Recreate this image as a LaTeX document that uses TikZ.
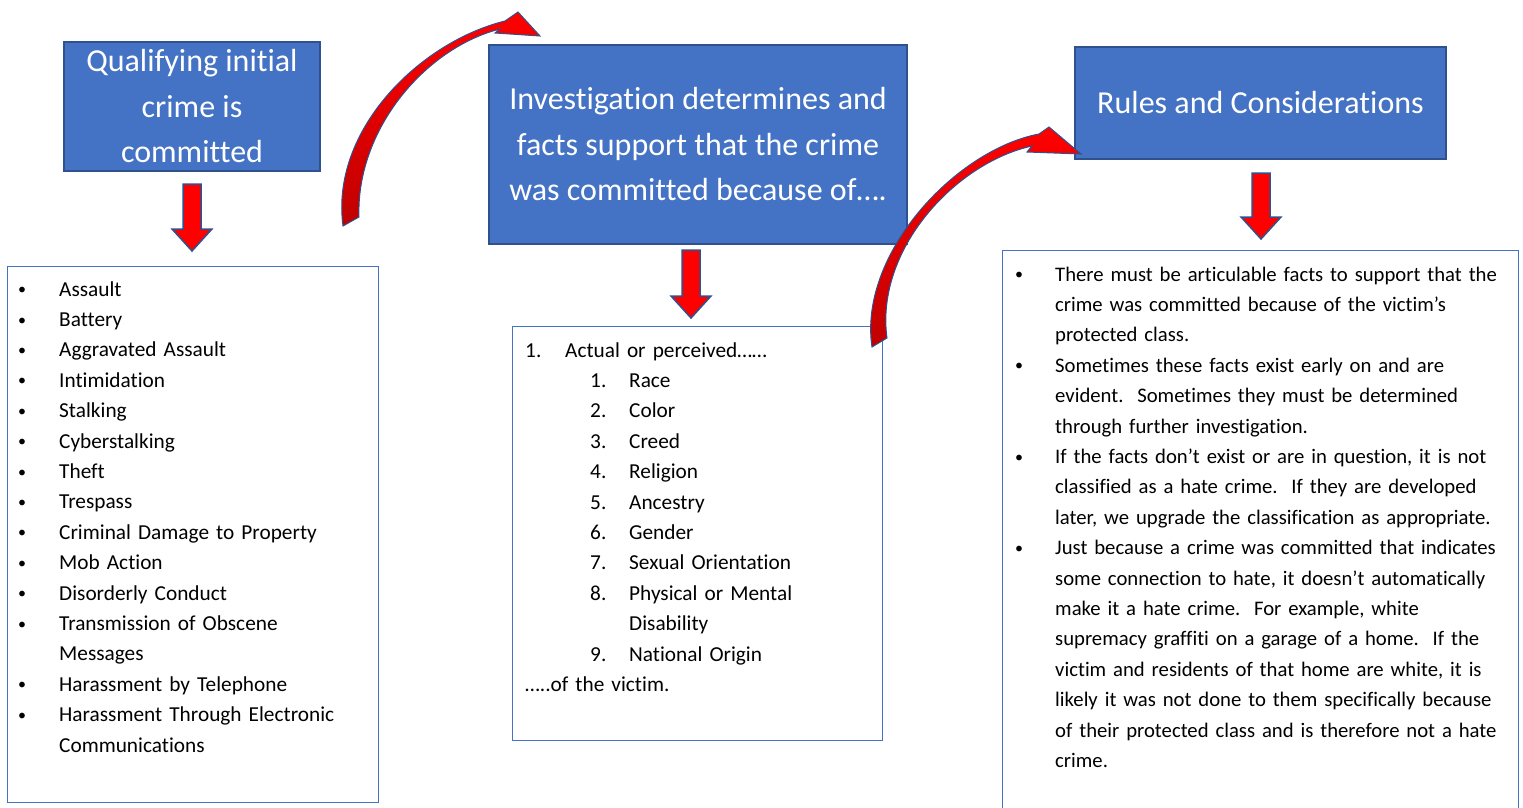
\documentclass[tikz,border=0pt]{standalone}
\usepackage{fontspec}
\setmainfont{Carlito}[Ligatures=CommonOff]
\usetikzlibrary{calc}
\definecolor{boxblue}{HTML}{4472C4}
\definecolor{edgeblue}{HTML}{2F528F}
\definecolor{darkred}{HTML}{C00000}
\newcommand\blt{\makebox[0pt]{\raisebox{1.3pt}{\fontsize{16}{16}\selectfont •}}}
\begin{document}
\begin{tikzpicture}[x=1pt,y=-1pt,
  titlebox/.style={draw=edgeblue, line width=2pt, fill=boxblue, text=white, align=center,
    font=\fontsize{32}{45.5}\selectfont, inner sep=0pt, anchor=north west},
  listbox/.style={draw=boxblue, line width=1pt, anchor=north west, inner sep=0pt},
  listtext/.style={anchor=base west, inner sep=0pt, text width=600pt, align=left,
    font=\fontsize{21.3}{30.4}\selectfont},
  dnarrow/.style={draw=edgeblue, line width=1.5pt, fill=red, line join=miter},
  curvearrow/.style={draw=edgeblue, line width=1pt, top color=red, bottom color=darkred}]
\useasboundingbox (0,0) rectangle (1523,808);
\clip (0,0) rectangle (1523,808);
\fill[white] (0,0) rectangle (1523,808);

% title boxes
\node[titlebox, minimum width=256pt, minimum height=129pt] (t1) at (63,41) {Qualifying initial\\crime is\\committed};
\node[titlebox, minimum width=418pt, minimum height=199pt] (t2) at (488,44) {Investigation determines and\\facts support that the crime\\was committed because of\dots.};
\node[titlebox, minimum width=371pt, minimum height=112pt] (t3) at (1074,46) {Rules and Considerations};

% list boxes
\node[listbox, minimum width=371pt, minimum height=536pt] (b1) at (7,266) {};
\node[listbox, minimum width=370pt, minimum height=414pt] (b2) at (512,326) {};
\node[listbox, minimum width=516pt, minimum height=570pt] (b3) at (1002,250) {};

% list texts
\node[listtext] (l1) at (22,296) {%
\blt\hspace*{37pt}Assault\\
\blt\hspace*{37pt}Battery\\
\blt\hspace*{37pt}Aggravated Assault\\
\blt\hspace*{37pt}Intimidation\\
\blt\hspace*{37pt}Stalking\\
\blt\hspace*{37pt}Cyberstalking\\
\blt\hspace*{37pt}Theft\\
\blt\hspace*{37pt}Trespass\\
\blt\hspace*{37pt}Criminal Damage to Property\\
\blt\hspace*{37pt}Mob Action\\
\blt\hspace*{37pt}Disorderly Conduct\\
\blt\hspace*{37pt}Transmission of Obscene\\
\hspace*{37pt}Messages\\
\blt\hspace*{37pt}Harassment by Telephone\\
\blt\hspace*{37pt}Harassment Through Electronic\\
\hspace*{37pt}Communications};

\node[listtext] (l2) at (525,357) {%
\makebox[40pt][l]{1.}Actual or perceived……\\
\hspace*{65pt}\makebox[39pt][l]{1.}Race\\
\hspace*{65pt}\makebox[39pt][l]{2.}Color\\
\hspace*{65pt}\makebox[39pt][l]{3.}Creed\\
\hspace*{65pt}\makebox[39pt][l]{4.}Religion\\
\hspace*{65pt}\makebox[39pt][l]{5.}Ancestry\\
\hspace*{65pt}\makebox[39pt][l]{6.}Gender\\
\hspace*{65pt}\makebox[39pt][l]{7.}Sexual Orientation\\
\hspace*{65pt}\makebox[39pt][l]{8.}Physical or Mental\\
\hspace*{104pt}Disability\\
\hspace*{65pt}\makebox[39pt][l]{9.}National Origin\\
…..of the victim.};

\node[listtext, font=\fontsize{20.7}{30.4}\selectfont] (l3) at (1019,281) {%
\blt\hspace*{36pt}There must be articulable facts to support that the\\
\hspace*{36pt}crime was committed because of the victim’s\\
\hspace*{36pt}protected class.\\
\blt\hspace*{36pt}Sometimes these facts exist early on and are\\
\hspace*{36pt}evident.\ \ Sometimes they must be determined\\
\hspace*{36pt}through further investigation.\\
\blt\hspace*{36pt}If the facts don’t exist or are in question, it is not\\
\hspace*{36pt}classified as a hate crime.\ \ If they are developed\\
\hspace*{36pt}later, we upgrade the classification as appropriate.\\
\blt\hspace*{36pt}Just because a crime was committed that indicates\\
\hspace*{36pt}some connection to hate, it doesn’t automatically\\
\hspace*{36pt}make it a hate crime.\ \ For example, white\\
\hspace*{36pt}supremacy graffiti on a garage of a home.\ \ If the\\
\hspace*{36pt}victim and residents of that home are white, it is\\
\hspace*{36pt}likely it was not done to them specifically because\\
\hspace*{36pt}of their protected class and is therefore not a hate\\
\hspace*{36pt}crime.};

% down block arrows
\draw[dnarrow] ($(t1.south)+(0,12)$) ++(-9,0) -- ++(0,45) -- ++(-11,0) -- ++(20,22) -- ++(20,-22) -- ++(-11,0) -- ++(0,-45) -- cycle;
\draw[dnarrow] ($(t2.south)+(-7,5)$) ++(-9,0) -- ++(0,46) -- ++(-11,0) -- ++(20,22) -- ++(20,-22) -- ++(-11,0) -- ++(0,-46) -- cycle;
\draw[dnarrow] ($(t3.south)+(0.5,13)$) ++(-9,0) -- ++(0,44) -- ++(-11,0) -- ++(20,22) -- ++(20,-22) -- ++(-11,0) -- ++(0,-44) -- cycle;

% curved arrows
\draw[curvearrow] (343,226) .. controls (330,130) and (420,42) .. (505,21) -- (518,12) -- (540,36) -- (495,33) -- (500,29) .. controls (425,48) and (356,130) .. (359,217) -- cycle;
\draw[curvearrow] (872,347) .. controls (858,255) and (955,150) .. (1039,134) -- (1049,127) -- (1081,154) -- (1027,152) -- (1032,146) .. controls (955,163) and (875,250) .. (887,338) -- cycle;
\end{tikzpicture}
\end{document}
